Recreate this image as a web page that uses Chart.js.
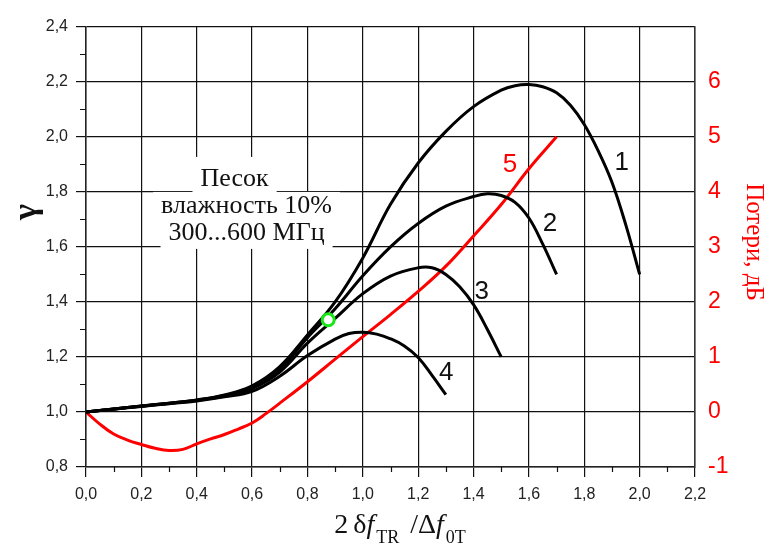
<!DOCTYPE html>
<html>
<head>
<meta charset="utf-8">
<script src="https://cdn.jsdelivr.net/npm/chart.js@4.4.0/dist/chart.umd.min.js"></script>
<style>
  html, body { margin: 0; padding: 0; background: #fff; }
  #wrap { width: 767px; height: 546px; }
</style>
</head>
<body>
<div id="wrap"><canvas id="chart" width="767" height="546"></canvas></div>
<script>
// gamma curves 1..4 (left axis)
const curve1X = [0, 0.1, 0.2, 0.3, 0.4, 0.5, 0.6, 0.7, 0.8, 0.9, 1.0, 1.1, 1.2, 1.3, 1.4, 1.5, 1.55, 1.6, 1.65, 1.7, 1.75, 1.8, 1.85, 1.9, 1.95, 2.0];
const curve1Y = [1.0, 1.011, 1.022, 1.032, 1.044, 1.062, 1.095, 1.165, 1.28, 1.40, 1.56, 1.755, 1.905, 2.02, 2.11, 2.17, 2.186, 2.19, 2.182, 2.16, 2.115, 2.045, 1.95, 1.835, 1.68, 1.50];

const curve2X = [0, 0.1, 0.2, 0.3, 0.4, 0.5, 0.6, 0.7, 0.8, 0.9, 1.0, 1.1, 1.2, 1.3, 1.4, 1.45, 1.5, 1.55, 1.6, 1.65, 1.7];
const curve2Y = [1.0, 1.011, 1.022, 1.032, 1.043, 1.06, 1.09, 1.155, 1.27, 1.375, 1.495, 1.60, 1.685, 1.748, 1.783, 1.793, 1.787, 1.762, 1.705, 1.61, 1.50];

const curve3X = [0, 0.1, 0.2, 0.3, 0.4, 0.5, 0.6, 0.7, 0.8, 0.9, 1.0, 1.1, 1.2, 1.25, 1.3, 1.35, 1.4, 1.45, 1.5];
const curve3Y = [1.0, 1.011, 1.021, 1.031, 1.042, 1.058, 1.085, 1.145, 1.25, 1.34, 1.43, 1.494, 1.524, 1.524, 1.50, 1.455, 1.39, 1.30, 1.20];

const curve4X = [0, 0.1, 0.2, 0.3, 0.4, 0.5, 0.6, 0.7, 0.8, 0.9, 0.95, 1.0, 1.05, 1.1, 1.15, 1.2, 1.25, 1.3];
const curve4Y = [1.0, 1.01, 1.02, 1.03, 1.04, 1.055, 1.075, 1.13, 1.205, 1.265, 1.285, 1.29, 1.283, 1.266, 1.24, 1.198, 1.133, 1.063];

// curve 5: losses, dB (right axis)
const lossX = [0, 0.05, 0.1, 0.15, 0.2, 0.25, 0.3, 0.35, 0.4, 0.45, 0.5, 0.55, 0.6, 0.65, 0.7, 0.8, 0.9, 1.0, 1.1, 1.2, 1.3, 1.4, 1.5, 1.6, 1.7];
const lossY = [0, -0.22, -0.40, -0.51, -0.59, -0.66, -0.70, -0.68, -0.58, -0.49, -0.41, -0.31, -0.20, -0.03, 0.16, 0.55, 0.96, 1.37, 1.77, 2.19, 2.65, 3.2, 3.77, 4.42, 5.0];

// green marker
const markX = [0.875];
const markY = [1.335];

// minor tick values
const minorTicksX = [0.1, 0.3, 0.5, 0.7, 0.9, 1.1, 1.3, 1.5, 1.7, 1.9, 2.1];
const minorTicksY = [0.9, 1.1, 1.3, 1.5, 1.7, 1.9, 2.1, 2.3];

// curve numbers, anchored in data units
const curveNames = ['1', '2', '3', '4', '5'];
const curveNameX = [1.935, 1.676, 1.43, 1.301, 1.532];
const curveNameY = [1.904, 1.684, 1.435, 1.144, 1.897];

const noteLines = ['Песок', 'влажность 10%', '300...600 МГц'];

function toPoints(xs, ys) {
    return xs.map((x, i) => ({ x: x, y: ys[i] }));
}

const comma = v => v.toFixed(1).replace('.', ',');

const decorPlugin = {
    id: 'decor',
    beforeDatasetsDraw(chart) {
        const { ctx, scales } = chart;
        // text block with white background
        const cx = scales.x.getPixelForValue(0.58);
        const cy = scales.y.getPixelForValue(1.749);
        ctx.save();
        ctx.font = '26px "Liberation Serif", "Times New Roman", serif';
        ctx.textAlign = 'center';
        ctx.textBaseline = 'middle';
        const offsets = [-27, 0, 27];
        const shiftX = [-12, 0, 0];
        noteLines.forEach((t, i) => {
            const w = ctx.measureText(t).width;
            const top = cy + offsets[i] - (i === 0 ? 22 : 14);
            const bottom = cy + offsets[i] + (i === 2 ? 16 : 14);
            ctx.fillStyle = '#fff';
            ctx.fillRect(cx + shiftX[i] - w / 2 - 8, top, w + 16, bottom - top);
        });
        ctx.fillStyle = '#111';
        noteLines.forEach((t, i) => {
            ctx.fillText(t, cx + shiftX[i], cy + offsets[i]);
        });
        ctx.restore();
    },
    afterDraw(chart) {
        const { ctx, chartArea, scales } = chart;
        ctx.save();

        // minor ticks
        ctx.strokeStyle = '#111';
        ctx.lineWidth = 1.2;
        ctx.beginPath();
        minorTicksY.forEach(v => {
            const p = Math.round(scales.y.getPixelForValue(v)) + 0.5;
            ctx.moveTo(chartArea.left - 6, p);
            ctx.lineTo(chartArea.left, p);
        });
        minorTicksX.forEach(v => {
            const p = Math.round(scales.x.getPixelForValue(v)) + 0.5;
            ctx.moveTo(p, chartArea.bottom);
            ctx.lineTo(p, chartArea.bottom + 5);
        });
        ctx.stroke();

        // green marker ring
        const mx = scales.x.getPixelForValue(markX[0]);
        const my = scales.y.getPixelForValue(markY[0]);
        ctx.beginPath();
        ctx.arc(mx, my, 6, 0, Math.PI * 2);
        ctx.fillStyle = '#fff';
        ctx.fill();
        ctx.lineWidth = 3;
        ctx.strokeStyle = '#19e619';
        ctx.stroke();

        // curve numbers
        ctx.font = '26px "Liberation Sans", Arial, sans-serif';
        ctx.textAlign = 'center';
        ctx.textBaseline = 'middle';
        curveNames.forEach((n, i) => {
            ctx.fillStyle = n === '5' ? '#ff0000' : '#111';
            ctx.fillText(n, scales.x.getPixelForValue(curveNameX[i]), scales.y.getPixelForValue(curveNameY[i]));
        });

        // left axis title
        ctx.save();
        ctx.translate(27, 212);
        ctx.rotate(-Math.PI / 2);
        ctx.font = 'bold 34px "Liberation Serif", "Times New Roman", serif';
        ctx.fillStyle = '#111';
        ctx.fillText('γ', 0, 0);
        ctx.restore();

        // right axis title
        ctx.save();
        ctx.translate(754, 242);
        ctx.rotate(Math.PI / 2);
        ctx.font = '25px "Liberation Serif", "Times New Roman", serif';
        ctx.fillStyle = '#ff0000';
        ctx.fillText('Потери, дБ', 0, 0);
        ctx.restore();

        // x axis title: 2 δ f_TR / Δ f_0T
        const big = '28px "Liberation Serif", "Times New Roman", serif';
        const bigIt = 'italic 28px "Liberation Serif", "Times New Roman", serif';
        const sub = '18px "Liberation Serif", "Times New Roman", serif';
        const parts = [
            { t: '2', f: big, dy: 0, gap: 5 },
            { t: 'δ', f: big, dy: 0, gap: 0 },
            { t: 'f', f: bigIt, dy: 0, gap: 2 },
            { t: 'TR', f: sub, dy: 10, gap: 11 },
            { t: '/', f: big, dy: 0, gap: 0 },
            { t: 'Δ', f: big, dy: 0, gap: 0 },
            { t: 'f', f: bigIt, dy: 0, gap: 2 },
            { t: '0T', f: sub, dy: 10, gap: 0 }
        ];
        ctx.textAlign = 'left';
        ctx.textBaseline = 'alphabetic';
        ctx.fillStyle = '#111';
        let total = 0;
        parts.forEach(p => { ctx.font = p.f; p.w = ctx.measureText(p.t).width; total += p.w + p.gap; });
        let x = 400 - total / 2;
        parts.forEach(p => {
            ctx.font = p.f;
            ctx.fillText(p.t, x, 533 + p.dy);
            x += p.w + p.gap;
        });

        ctx.restore();
    }
};

Chart.register(decorPlugin);

const blackLine = {
    borderColor: '#000',
    borderWidth: 3,
    pointRadius: 0,
    fill: false,
    tension: 0.4,
    yAxisID: 'y'
};

new Chart(document.getElementById('chart').getContext('2d'), {
    type: 'line',
    data: {
        datasets: [
            Object.assign({ label: '1', data: toPoints(curve1X, curve1Y) }, blackLine),
            Object.assign({ label: '2', data: toPoints(curve2X, curve2Y) }, blackLine),
            Object.assign({ label: '3', data: toPoints(curve3X, curve3Y) }, blackLine),
            Object.assign({ label: '4', data: toPoints(curve4X, curve4Y) }, blackLine),
            {
                label: '5',
                data: toPoints(lossX, lossY),
                borderColor: '#ff0000',
                borderWidth: 3,
                pointRadius: 0,
                fill: false,
                tension: 0.4,
                yAxisID: 'y2'
            }
        ]
    },
    options: {
        responsive: false,
        animation: false,
        layout: { padding: { top: 17, left: 0, right: 0, bottom: 0 } },
        plugins: {
            legend: { display: false },
            tooltip: { enabled: false }
        },
        scales: {
            x: {
                type: 'linear',
                min: 0,
                max: 2.2,
                afterFit: s => { s.height = 79; },
                border: { display: true, color: '#222', width: 1.5 },
                grid: { color: '#111', lineWidth: 1.2, tickLength: 10, tickColor: '#111' },
                ticks: {
                    stepSize: 0.2,
                    autoSkip: false,
                    maxRotation: 0,
                    padding: 8,
                    color: '#222',
                    font: { family: '"Liberation Sans", Arial, sans-serif', size: 16 },
                    callback: v => comma(v)
                }
            },
            y: {
                position: 'left',
                min: 0.8,
                max: 2.4,
                afterFit: s => { s.width = 86; },
                border: { display: true, color: '#222', width: 1.5 },
                grid: { color: '#111', lineWidth: 1.2, tickLength: 10, tickColor: '#111' },
                ticks: {
                    stepSize: 0.2,
                    padding: 8,
                    color: '#222',
                    font: { family: '"Liberation Sans", Arial, sans-serif', size: 16 },
                    callback: v => comma(v)
                }
            },
            y2: {
                position: 'right',
                min: -1,
                max: 7,
                afterFit: s => { s.width = 72; },
                border: { display: true, color: '#333', width: 1.5 },
                grid: { drawOnChartArea: false, drawTicks: false },
                ticks: {
                    stepSize: 1,
                    padding: 13,
                    color: '#ff0000',
                    font: { family: '"Liberation Sans", Arial, sans-serif', size: 23 },
                    callback: v => (v === 7 ? '' : String(v))
                }
            }
        }
    }
});
</script>
</body>
</html>
